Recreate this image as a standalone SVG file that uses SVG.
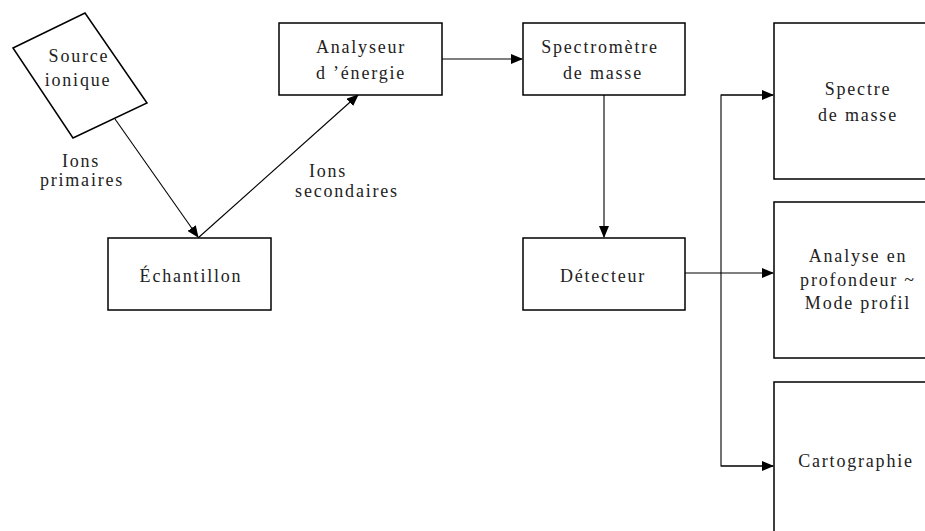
<svg xmlns="http://www.w3.org/2000/svg" width="925" height="531" viewBox="0 0 925 531">
<style>
.box{fill:#fff;stroke:#000;stroke-width:1.5}
.t{font-family:"Liberation Serif","DejaVu Serif",serif;font-size:18px;letter-spacing:1.8px;fill:#222;text-anchor:middle}
.c{fill:none;stroke:#000;stroke-width:1.1}
</style>
<defs>
<marker id="ah" markerWidth="12" markerHeight="10" refX="11" refY="5" orient="auto" markerUnits="userSpaceOnUse">
<path d="M0,0 L12,5 L0,10 Z" fill="#000"/>
</marker>
</defs>
<rect width="925" height="531" fill="#fff"/>
<g id="connectors">
<line class="c" x1="115" y1="119" x2="198" y2="237" marker-end="url(#ah)"/>
<line class="c" x1="198" y1="238" x2="358" y2="95" marker-end="url(#ah)"/>
<line class="c" x1="442" y1="59" x2="522" y2="59" marker-end="url(#ah)"/>
<line class="c" x1="604" y1="95" x2="604" y2="237" marker-end="url(#ah)"/>
<line class="c" x1="685" y1="273" x2="773" y2="273" marker-end="url(#ah)"/>
<polyline class="c" points="773,95 721,95 721,466 773,466"/>
<line class="c" x1="721" y1="95" x2="773" y2="95" marker-end="url(#ah)"/>
<line class="c" x1="721" y1="466" x2="773" y2="466" marker-end="url(#ah)"/>
</g>
<g id="source">
<polygon class="box" points="13,48 85,13 147,103 73,138"/>
<text class="t" x="79" y="62">Source</text>
<text class="t" x="78" y="86">ionique</text>
</g>
<g id="label-primaires">
<text class="t" x="81" y="167">Ions</text>
<text class="t" x="82" y="186">primaires</text>
</g>
<g id="label-secondaires">
<text class="t" x="328" y="177">Ions</text>
<text class="t" x="347" y="197">secondaires</text>
</g>
<g id="echantillon">
<rect class="box" x="108" y="238" width="163" height="72"/>
<text class="t" x="191" y="282">Échantillon</text>
</g>
<g id="analyseur">
<rect class="box" x="279" y="23" width="163" height="72"/>
<text class="t" x="361" y="53">Analyseur</text>
<text class="t" x="361" y="79">d ’énergie</text>
</g>
<g id="spectrometre">
<rect class="box" x="523" y="23" width="162" height="72"/>
<text class="t" x="600" y="53">Spectromètre</text>
<text class="t" x="603" y="79">de masse</text>
</g>
<g id="detecteur">
<rect class="box" x="523" y="238" width="162" height="72"/>
<text class="t" x="603" y="282">Détecteur</text>
</g>
<g id="spectre">
<rect class="box" x="774" y="23" width="160" height="156"/>
<text class="t" x="858" y="95">Spectre</text>
<text class="t" x="858" y="121">de masse</text>
</g>
<g id="analyse">
<rect class="box" x="774" y="202" width="160" height="156"/>
<text class="t" x="858" y="262">Analyse en</text>
<text class="t" x="858" y="286">profondeur ~</text>
<text class="t" x="858" y="309">Mode profil</text>
</g>
<g id="cartographie">
<rect class="box" x="774" y="382" width="160" height="160"/>
<text class="t" x="856" y="467">Cartographie</text>
</g>
</svg>
